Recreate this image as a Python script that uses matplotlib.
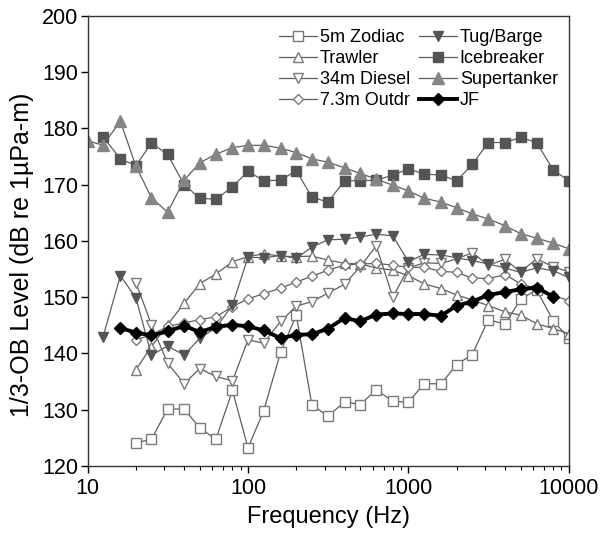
import matplotlib
matplotlib.use('Agg')
import matplotlib.pyplot as plt
from matplotlib.ticker import LogLocator, NullFormatter, FixedLocator, FixedFormatter

plt.rcParams['font.family'] = ['Liberation Sans', 'DejaVu Sans']

# 1/3-octave band centre frequencies (Hz)
freq = [10, 12.5, 16, 20, 25, 31.5, 40, 50, 63, 80, 100, 125, 160, 200, 250, 315,
        400, 500, 630, 800, 1000, 1250, 1600, 2000, 2500, 3150, 4000, 5000, 6300,
        8000, 10000]

zodiac = [124.1, 124.7, 130.1, 130.1, 126.8, 124.7, 133.4, 123.2, 129.7, 140.3,
          146.8, 130.9, 128.8, 131.4, 130.9, 133.5, 131.5, 131.3, 134.6, 134.6,
          138.0, 139.8, 146.0, 145.2, 149.6, 151.3, 145.8, 142.7]
trawler = [137.1, 141.2, 145.1, 148.9, 152.4, 154.1, 156.3, 157.2, 157.7, 157.3,
           157.2, 157.3, 156.6, 156.0, 155.9, 155.2, 154.8, 153.8, 152.4, 151.5,
           150.4, 149.5, 148.5, 147.4, 146.8, 145.3, 144.4, 143.5]
diesel = [152.6, 145.1, 138.3, 134.6, 137.3, 135.9, 135.1, 142.4, 141.8, 145.7,
          148.4, 149.2, 150.7, 152.3, 155.4, 159.1, 150.0, 155.2, 156.1, 156.0,
          156.8, 157.9, 155.7, 156.7, 154.5, 156.8, 155.4, 154.5]
outdr = [142.4, 143.3, 144.8, 145.4, 146.0, 146.5, 148.3, 149.7, 150.6, 151.6,
         152.7, 153.7, 154.8, 155.7, 155.9, 156.0, 155.7, 155.3, 155.3, 154.6,
         154.4, 153.4, 153.3, 154.0, 152.4, 151.5, 150.3, 149.4]
tug = [143.0, 153.8, 149.9, 139.7, 141.3, 139.7, 142.7, 144.5, 148.6, 157.1,
       157.0, 157.4, 156.9, 158.9, 160.2, 160.3, 160.7, 161.2, 160.9, 156.3,
       157.6, 157.5, 157.0, 156.5, 155.9, 155.2, 154.4, 155.2, 154.7, 153.5]
icebreaker = [178.5, 174.6, 173.4, 177.4, 175.4, 170.0, 167.6, 167.4, 169.6, 172.4,
              170.7, 170.8, 172.5, 167.8, 166.9, 170.7, 170.7, 170.8, 171.7, 172.8,
              171.9, 171.7, 170.7, 173.6, 177.5, 177.5, 178.4, 177.5, 172.6, 170.7]
supertanker = [177.8, 177.0, 181.3, 173.3, 167.7, 165.1, 170.8, 173.9, 175.4, 176.6,
               177.0, 177.0, 176.5, 175.7, 174.6, 174.0, 173.0, 172.0, 171.0, 169.9,
               168.9, 167.6, 166.9, 165.9, 164.8, 163.9, 162.7, 161.3, 160.5, 159.6,
               158.6]
jf = [144.5, 143.7, 143.2, 143.9, 144.9, 143.8, 144.7, 145.1, 144.8, 144.1,
      142.7, 143.3, 143.4, 144.4, 146.3, 145.7, 146.9, 147.1, 147.0, 147.0,
      146.7, 148.5, 149.2, 150.4, 150.9, 151.4, 151.7, 150.1]

line_c = '#5e5e5e'
open_c = '#7a7a7a'
dark_c = '#555555'
light_c = '#858585'

fig = plt.figure(figsize=(6.0, 5.33), dpi=100)
ax = fig.add_axes([0.146, 0.126, 0.802, 0.844])

ax.plot(freq[3:], zodiac, color=line_c, lw=0.9, marker='s', ms=7,
        mfc='white', mec=open_c, mew=1.0, label='5m Zodiac')
ax.plot(freq[3:], trawler, color=line_c, lw=0.9, marker='^', ms=7.5,
        mfc='white', mec=open_c, mew=1.0, label='Trawler')
ax.plot(freq[3:], diesel, color=line_c, lw=0.9, marker='v', ms=7.5,
        mfc='white', mec=open_c, mew=1.0, label='34m Diesel')
ax.plot(freq[3:], outdr, color=line_c, lw=0.9, marker='D', ms=5,
        mfc='white', mec=open_c, mew=1.0, label='7.3m Outdr')
ax.plot(freq[1:], tug, color=line_c, lw=0.9, marker='v', ms=7.5,
        mfc=dark_c, mec=dark_c, label='Tug/Barge')
ax.plot(freq[1:], icebreaker, color=line_c, lw=0.9, marker='s', ms=7,
        mfc=dark_c, mec=dark_c, label='Icebreaker')
ax.plot(freq, supertanker, color=line_c, lw=0.9, marker='^', ms=8,
        mfc=light_c, mec=light_c, label='Supertanker')
ax.plot(freq[2:-1], jf, color='black', lw=2.8, marker='D', ms=6.5,
        mfc='black', mec='black', label='JF')

ax.set_xscale('log')
ax.set_xlim(10, 10000)
ax.set_ylim(120, 200)
ax.xaxis.set_major_locator(FixedLocator([10, 100, 1000, 10000]))
ax.xaxis.set_major_formatter(FixedFormatter(['10', '100', '1000', '10000']))
ax.xaxis.set_minor_locator(LogLocator(base=10, subs=range(2, 10), numticks=20))
ax.xaxis.set_minor_formatter(NullFormatter())
ax.set_yticks(range(120, 201, 10))

ax.tick_params(axis='both', which='major', direction='out', length=5,
               width=1, labelsize=15.5, pad=2)
ax.tick_params(axis='x', which='major', pad=4)
ax.tick_params(axis='x', which='minor', direction='out', length=3, width=0.8)
ax.tick_params(top=False, right=False)
for s in ax.spines.values():
    s.set_linewidth(1.0)
    s.set_color('#333333')

ax.set_xlabel('Frequency (Hz)', fontsize=17, labelpad=5)
ax.set_ylabel('1/3-OB Level (dB re 1\u00b5Pa-m)', fontsize=18)
ax.yaxis.set_label_coords(-0.112, 0.47)

ax.legend(ncol=2, loc='upper right', frameon=False, fontsize=13,
          handlelength=2.1, handletextpad=0.15, columnspacing=0.5,
          labelspacing=0.22, borderaxespad=0.2, bbox_to_anchor=(1.0, 0.995))

fig.savefig('out.png', dpi=100)
